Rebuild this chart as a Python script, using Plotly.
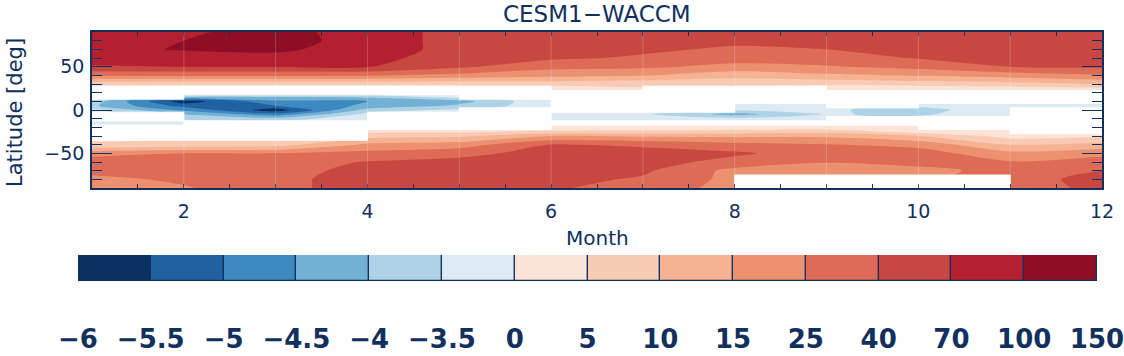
import numpy as np
import plotly.graph_objects as go

# ---- data -------------------------------------------------------------
N = np.nan
MONTHS = list(range(1, 13))
LATS = [-90, -80, -70, -60, -50, -40, -30, -25, -20, -15, -10, -5, 0,
        5, 10, 15, 20, 25, 30, 40, 50, 60, 70, 80, 90]

# one latitude profile per month (south -> north); NaN = no data (white)
m01 = [18, 22, 30, 32, 22, 6, N, N, N, -2, N, N, -2.5,
       -3.9, -3.7, N, N, N, 6, 27, 68, 80, 88, 85, 85]
m02 = [24, 28, 33, 35, 25, 7, N, N, N, N, -3.6, -4.0, -4.6,
       -5.2, -5.8, -3.9, N, N, 6, 28, 70, 85, 105, 100, 95]
m03 = [36, 36, 35, 33, 25, 8, N, N, N, N, -3.8, -4.8, -5.8,
       -5.0, -4.6, -4.0, N, N, 6, 28, 72, 90, 110, 125, 120]
m04 = [52, 52, 48, 42, 30, 17, 8, 4, N, N, N, N, -3.8,
       -4.4, -4.5, -3.9, N, N, 6, 27, 72, 80, 85, 85, 85]
m05 = [55, 58, 55, 48, 36, 20, 9, 4, N, N, N, N, N,
       -3.9, -4.2, N, N, N, 6, 22, 45, 55, 60, 60, 60]
m06 = [45, 50, 55, 55, 50, 42, 15, 6, 2, N, -2.5, -2.5, N,
       N, N, N, N, 2, 7, 18, 30, 45, 55, 58, 58]
m07 = [32, 38, 45, 52, 50, 38, 14, 6, 2, N, -2.5, -3.0, N,
       N, N, N, N, N, 6, 16, 28, 38, 45, 50, 52]
m08 = [N, N, 22, 35, 45, 30, 14, 7, 2, N, -2.5, -4.2, -3.0,
       -1.5, N, N, N, N, 6, 12, 22, 32, 38, 46, 50]
m09 = [N, N, 18, 26, 32, 26, 14, 8, 2, N, N, -3.2, -3.0,
       N, N, N, N, 2, 6, 14, 24, 34, 40, 48, 52]
m10 = [N, N, 22, 30, 32, 22, 10, 3, N, N, N, -3.6, -3.7,
       -2.5, N, N, N, 2.5, 7, 16, 30, 42, 52, 58, 62]
m11 = [35, 35, 30, 26, 18, 10, 3, N, N, N, N, N, N,
       -1.5, N, N, N, 3, 8, 20, 40, 52, 58, 62, 65]
m12 = [45, 48, 40, 32, 22, 12, 4, 1, N, N, N, N, N,
       -1, N, N, N, 4, 10, 24, 45, 55, 62, 65, 68]

LEVELS = [-6, -5.5, -5, -4.5, -4, -3.5, 0, 5, 10, 15, 25, 40, 70, 100, 150]
LEVEL_TEXT = ["\u22126", "\u22125.5", "\u22125", "\u22124.5", "\u22124",
              "\u22123.5", "0", "5", "10", "15", "25", "40", "70", "100", "150"]
COLORS = ["#0b3163", "#2161a1", "#3c88bf", "#72b0d4", "#aed2e6", "#dceaf3",
          "#fce3d7", "#f9cbb4", "#f5b394", "#ec9070", "#dd6b55", "#c94741",
          "#b4202f", "#8e0e26"]

NAVY = "#12305e"
FONT = "DejaVu Sans"

# ---- grids -------------------------------------------------------------
profiles = np.array([m01, m02, m03, m04, m05, m06, m07, m08, m09, m10, m11, m12],
                    dtype=float).T  # rows = lat, cols = month
missing = np.isnan(profiles)
lat_arr = np.array(LATS, dtype=float)

# gaps are bridged along latitude only so the contour has a full grid
filled = profiles.copy()
for j in range(filled.shape[1]):
    ok = ~missing[:, j]
    filled[:, j] = np.interp(lat_arr, lat_arr[ok], profiles[ok, j])

# uneven levels -> bin index so the contour bands line up with the colour bar
zidx = np.interp(filled, LEVELS, np.arange(len(LEVELS)))
cscale = [[i / (len(COLORS) - 1), c] for i, c in enumerate(COLORS)]

# no-data cells: held from a month until the next one
lat_edges = np.concatenate([[-90], (lat_arr[:-1] + lat_arr[1:]) / 2, [90]])
gx, gy = [], []
for j in range(len(MONTHS) - 1):
    col = missing[:, j]
    i = 0
    while i < len(col):
        if col[i]:
            k = i
            while k + 1 < len(col) and col[k + 1]:
                k += 1
            x0, x1 = MONTHS[j], MONTHS[j + 1]
            y0, y1 = lat_edges[i], lat_edges[k + 1]
            gx += [x0, x1, x1, x0, x0, None]
            gy += [y0, y0, y1, y1, y0, None]
            i = k + 1
        else:
            i += 1

fig = go.Figure()

fig.add_trace(go.Contour(
    x=MONTHS, y=LATS, z=zidx,
    colorscale=cscale,
    contours=dict(start=1, end=13, size=1, coloring="fill", showlines=False),
    line=dict(width=0, smoothing=0.8),
    showscale=False,
    hoverinfo="skip",
))

fig.add_trace(go.Scatter(
    x=gx, y=gy, mode="lines", fill="toself", fillcolor="white",
    line=dict(color="white", width=1),
    hoverinfo="skip",
))

# discrete colour bar drawn as a row of boxes
fig.add_trace(go.Bar(
    x=[i + 0.5 for i in range(len(COLORS))],
    y=[1] * len(COLORS),
    width=1,
    marker=dict(color=COLORS, line=dict(color=NAVY, width=1.2)),
    xaxis="x2", yaxis="y2",
    hoverinfo="skip",
))

# faint month boundaries
for m in MONTHS[1:-1]:
    fig.add_shape(type="line", x0=m, x1=m, y0=-90, y1=90, xref="x", yref="y",
                  line=dict(color="rgba(255,255,255,0.2)", width=1), layer="above")

W, H = 1124, 356
tick_font = dict(family=FONT, size=19, color=NAVY)

fig.update_layout(
    template="none",
    width=W, height=H,
    margin=dict(l=0, r=0, t=0, b=0, autoexpand=False),
    paper_bgcolor="white",
    plot_bgcolor="white",
    showlegend=False,
    bargap=0,
    xaxis=dict(
        domain=[92 / W, 1102 / W], range=[1, 12], automargin=False,
        tick0=0, dtick=2, ticks="inside", ticklen=4, tickcolor=NAVY,
        minor=dict(dtick=0.5, tick0=1, ticks="inside", ticklen=4, tickcolor=NAVY),
        showline=True, linecolor=NAVY, linewidth=1.5, mirror="ticks",
        showgrid=False, zeroline=False,
        tickfont=tick_font, ticklabelstandoff=5,
    ),
    yaxis=dict(
        domain=[1 - 188 / H, 1 - 32 / H], range=[-90, 90], automargin=False,
        tick0=0, dtick=50, ticks="inside", ticklen=20, tickcolor=NAVY,
        minor=dict(dtick=10, tick0=0, ticks="inside", ticklen=10, tickcolor=NAVY),
        showline=True, linecolor=NAVY, linewidth=1.5, mirror="ticks",
        showgrid=False, zeroline=False,
        tickfont=tick_font, ticklabelstandoff=2,
    ),
    xaxis2=dict(
        domain=[78 / W, 1097 / W], range=[0, len(COLORS)], anchor="y2",
        automargin=False,
        tickmode="array", tickvals=list(range(len(LEVELS))), ticktext=LEVEL_TEXT,
        ticks="", showline=False, showgrid=False, zeroline=False,
        tickfont=dict(family=FONT, size=26, color=NAVY, weight="bold"),
        ticklabelstandoff=40, ticklabeloverflow="allow",
    ),
    yaxis2=dict(domain=[1 - 281 / H, 1 - 255 / H], range=[0, 1], anchor="x2",
                visible=False, fixedrange=True, automargin=False),
    annotations=[
        dict(text="CESM1\u2212WACCM", x=597 / W, y=1 - 14 / H, xref="paper", yref="paper",
             showarrow=False, xanchor="center", yanchor="middle",
             font=dict(family=FONT, size=23, color=NAVY)),
        dict(text="Latitude [deg]", x=15 / W, y=1 - 113 / H, xref="paper", yref="paper",
             textangle=-90, showarrow=False, xanchor="center", yanchor="middle",
             font=dict(family=FONT, size=21, color=NAVY)),
        dict(text="Month", x=597 / W, y=1 - 238 / H, xref="paper", yref="paper",
             showarrow=False, xanchor="center", yanchor="middle",
             font=dict(family=FONT, size=20, color=NAVY)),
    ],
)

# the page's default body margin would push the fixed-size figure off the window
fig.write_html("out.html", config={"displayModeBar": False},
               post_script="document.body.style.margin='0';")
